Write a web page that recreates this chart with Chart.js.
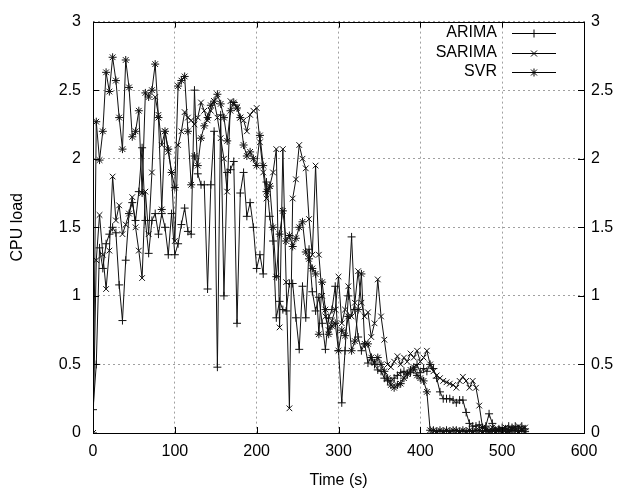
<!DOCTYPE html>
<html>
<head>
<meta charset="utf-8">
<script src="https://cdn.jsdelivr.net/npm/chart.js@4.4.1/dist/chart.umd.min.js"></script>
<style>body{margin:0;background:#fff}</style>
</head>
<body>
<canvas id="grafico" width="625" height="492"></canvas>
<script>
// tempo em segundos (eixo x)
const tempo = [
  0, 4, 8, 12, 16, 20, 24, 28, 32, 36, 40, 44, 48, 52, 56, 60, 64, 68, 72, 76, 80, 84, 88, 92, 96,
  100, 104, 108, 112, 116, 120, 124, 128, 132, 136, 140, 144, 148, 152, 156, 160, 164, 168, 172, 176, 180, 184, 188, 192, 196,
  200, 204, 208, 212, 216, 220, 224, 228, 232, 236, 240, 244, 248, 252, 256, 260, 264, 268, 272, 276, 280, 284, 288, 292, 296,
  300, 304, 308, 312, 316, 320, 324, 328, 332, 336, 340, 344, 348, 352, 356, 360, 364, 368, 372, 376, 380, 384, 388, 392, 396,
  400, 404, 408, 412, 416, 420, 424, 428, 432, 436, 440, 444, 448, 452, 456, 460, 464, 468, 472, 476, 480, 484, 488, 492, 496,
  500, 504, 508, 512, 516, 520, 524, 528
];

const arima = [
  0.17, 0.5, 1.35, 1.2, 1.38, 1.45, 1.5, 1.46, 1.08, 0.82, 1.26, 1.6, 1.68, 1.55, 1.76, 2.08, 1.55, 1.31, 1.55, 1.6, 1.45, 1.6, 1.5, 1.3, 1.6,
  1.3, 1.38, 1.52, 1.64, 1.47, 1.45, 2.5, 1.89, 1.81, 1.81, 1.05, 1.81, 2.2, 0.48, 2.32, 1.0, 1.9, 1.92, 1.98, 0.8, 1.75, 1.9, 1.58, 1.68, 1.5,
  1.2, 1.3, 1.16, 1.83, 1.58, 1.4, 0.84, 0.96, 0.9, 0.89, 1.09, 1.09, 0.84, 0.61, 1.07, 0.84, 1.34, 1.03, 0.89, 0.99, 0.8, 0.61, 0.84, 0.9, 1.07,
  0.6, 0.22, 0.6, 1.0, 1.43, 0.9, 0.7, 0.6, 0.65, 0.51, 0.55, 0.5, 0.46, 0.45, 0.4, 0.38, 0.38, 0.4, 0.42, 0.44, 0.45, 0.43, 0.44, 0.46, 0.5,
  0.44, 0.47, 0.45, 0.5, 0.47, 0.4, 0.3, 0.25, 0.25, 0.25, 0.24, 0.22, 0.24, 0.24, 0.15, 0.07, 0.05, 0.05, 0.06, 0.04, 0.05, 0.14, 0.07, 0.02, 0.03,
  0.04, 0.03, 0.05, 0.04, 0.05, 0.03, 0.05, 0.03
];

const sarima = [
  0, 1.26, 1.59, 1.3, 1.05, 1.33, 1.87, 1.55, 1.66, 1.45, 1.52, 1.6, 1.72, 1.5, 1.33, 1.13, 1.76, 1.45, 1.9, 2.45, 2.32, 2.1, 2.2, 2.05, 1.9,
  1.4, 2.1, 2.2, 2.34, 2.3, 2.28, 2.25, 2.3, 2.41, 2.35, 2.28, 2.35, 2.42, 2.3, 2.15, 2.0, 1.76, 2.42, 2.4, 2.38, 2.3, 2.28, 2.2, 2.32, 2.35,
  2.37, 2.12, 1.9, 1.71, 1.8, 1.9, 2.07, 0.77, 2.07, 1.1, 0.18, 1.71, 1.85, 2.1, 2.0, 1.93, 1.56, 1.3, 1.95, 1.3, 1.0, 0.85, 0.75, 0.82, 0.9,
  1.14, 0.8, 0.9, 1.07, 0.85, 0.95, 1.18, 0.95, 0.85, 0.88, 0.7, 0.8, 1.12, 0.85, 0.68, 0.5, 0.48, 0.52, 0.56, 0.5, 0.55, 0.52, 0.58, 0.55, 0.6,
  0.52, 0.55, 0.6, 0.5, 0.45, 0.42, 0.4, 0.38, 0.37, 0.36, 0.35, 0.33, 0.38, 0.41, 0.38, 0.33, 0.38, 0.33, 0.2, 0.04, 0.03, 0.02, 0.04, 0.03, 0.02,
  0.03, 0.04, 0.02, 0.03, 0.04, 0.05, 0.03, 0.04
];

const svr = [
  0, 2.27, 1.99, 2.2, 2.63, 2.49, 2.74, 2.57, 2.3, 2.07, 2.72, 2.52, 2.16, 2.2, 2.35, 1.75, 2.48, 2.45, 2.5, 2.69, 2.3, 1.63, 2.2, 2.07, 1.9,
  1.79, 2.53, 2.57, 2.6, 2.2, 1.81, 2.02, 1.95, 2.15, 2.24, 2.3, 2.39, 2.42, 2.47, 2.4, 2.3, 2.13, 2.35, 2.41, 2.37, 2.3, 2.1, 2.02, 2.05, 2.0,
  1.95, 2.17, 1.95, 1.76, 1.8, 1.5, 1.14, 1.45, 1.62, 1.4, 1.44, 1.36, 1.42, 1.5, 1.54, 1.32, 1.27, 1.2, 1.16, 0.72, 1.1, 0.9, 0.72, 0.78, 0.8,
  0.6, 0.75, 0.71, 0.85, 0.6, 0.67, 0.9, 1.16, 0.65, 0.65, 0.55, 0.51, 0.55, 0.5, 0.45, 0.4, 0.35, 0.33, 0.35, 0.36, 0.4, 0.43, 0.46, 0.48, 0.42,
  0.4, 0.38, 0.3, 0.02, 0.02, 0.01, 0.02, 0.01, 0.02, 0.01, 0.02, 0.02, 0.01, 0.02, 0.01, 0.02, 0.01, 0.02, 0.02, 0.01, 0.02, 0.01, 0.02, 0.01, 0.02,
  0.01, 0.02, 0.01, 0.02, 0.02, 0.01, 0.02, 0.01
];

const nomes = ['ARIMA', 'SARIMA', 'SVR'];
const marcadores = ['cross', 'crossRot', 'star'];
const xTicks = [0, 100, 200, 300, 400, 500, 600];
const yTicks = [0, 0.5, 1, 1.5, 2, 2.5, 3];
const yTickLabels = ['0', '0.5', '1', '1.5', '2', '2.5', '3'];

const fonte = 'Liberation Sans, Arial, sans-serif';

function pontos(valores) {
    return tempo.map((t, i) => ({ x: t, y: valores[i] }));
}

function desenhaMarcador(ctx, estilo, x, y, r) {
    ctx.beginPath();
    if (estilo === 'cross' || estilo === 'star') {
        ctx.moveTo(x - r, y); ctx.lineTo(x + r, y);
        ctx.moveTo(x, y - r); ctx.lineTo(x, y + r);
    }
    if (estilo === 'crossRot' || estilo === 'star') {
        const d = r * 0.75;
        ctx.moveTo(x - d, y - d); ctx.lineTo(x + d, y + d);
        ctx.moveTo(x - d, y + d); ctx.lineTo(x + d, y - d);
    }
    ctx.stroke();
}

// moldura, ticks para dentro, legenda e titulos no estilo gnuplot
const estiloGnuplot = {
    id: 'estiloGnuplot',
    afterDraw(chart) {
        const ctx = chart.ctx;
        const a = chart.chartArea;
        const sx = chart.scales.x, sy = chart.scales.y;
        ctx.save();
        ctx.strokeStyle = '#000';
        ctx.lineWidth = 1;
        ctx.strokeRect(Math.round(a.left) + 0.5, Math.round(a.top) + 0.5, Math.round(a.right - a.left), Math.round(a.bottom - a.top));

        ctx.beginPath();
        xTicks.forEach(v => {
            const px = Math.round(sx.getPixelForValue(v)) + 0.5;
            ctx.moveTo(px, a.bottom); ctx.lineTo(px, a.bottom - 6);
            ctx.moveTo(px, a.top); ctx.lineTo(px, a.top + 6);
        });
        yTicks.forEach(v => {
            const py = Math.round(sy.getPixelForValue(v)) + 0.5;
            ctx.moveTo(a.left, py); ctx.lineTo(a.left + 6, py);
            ctx.moveTo(a.right, py); ctx.lineTo(a.right - 6, py);
        });
        ctx.stroke();

        // legenda
        ctx.font = '16px ' + fonte;
        ctx.fillStyle = '#000';
        ctx.textAlign = 'right';
        ctx.textBaseline = 'middle';
        nomes.forEach((nome, i) => {
            const y = 33 + i * 19.5;
            ctx.fillText(nome, 497, y);
            ctx.beginPath();
            ctx.moveTo(512, Math.round(y) + 0.5);
            ctx.lineTo(556, Math.round(y) + 0.5);
            ctx.stroke();
            desenhaMarcador(ctx, marcadores[i], 534, Math.round(y) + 0.5, 4);
        });

        // titulos dos eixos
        ctx.font = '16px ' + fonte;
        ctx.textAlign = 'center';
        ctx.fillText('Time (s)', (a.left + a.right) / 2, 481);
        ctx.translate(18, (a.top + a.bottom) / 2);
        ctx.rotate(-Math.PI / 2);
        ctx.fillText('CPU load', 0, 0);
        ctx.restore();
    }
};

function serie(i, valores) {
    return {
        label: nomes[i],
        data: pontos(valores),
        borderColor: '#111',
        borderWidth: 1,
        pointStyle: marcadores[i],
        pointRadius: 4,
        pointBorderColor: '#111',
        pointBackgroundColor: 'transparent',
        pointBorderWidth: 1,
        tension: 0,
        fill: false
    };
}

const escalaY = (lado, largura, comGrade) => ({
    type: 'linear',
    position: lado,
    min: 0,
    max: 3,
    afterBuildTicks: s => { s.ticks = yTicks.map(v => ({ value: v })); },
    afterFit: s => { s.width = largura; },
    grid: { display: comGrade, color: '#a0a0a0', drawTicks: false },
    border: { display: false, dash: [2, 3] },
    ticks: {
        padding: lado === 'left' ? 12 : 7,
        color: '#000',
        font: { family: fonte, size: 16 },
        callback: v => yTickLabels[yTicks.indexOf(v)]
    }
});

const config = {
    type: 'line',
    data: {
        datasets: [serie(0, arima), serie(1, sarima), serie(2, svr)]
    },
    options: {
        responsive: false,
        animation: false,
        layout: { padding: { top: 18, left: 0, right: 0, bottom: 0 } },
        plugins: { legend: { display: false }, tooltip: { enabled: false } },
        scales: {
            x: {
                type: 'linear',
                min: 0,
                max: 600,
                afterBuildTicks: s => { s.ticks = xTicks.map(v => ({ value: v })); },
                afterFit: s => { s.height = 59; },
                grid: { color: '#a0a0a0', drawTicks: false },
                border: { display: false, dash: [2, 3] },
                ticks: { padding: 9, color: '#000', maxRotation: 0, font: { family: fonte, size: 16 } }
            },
            y: escalaY('left', 93, true),
            y2: escalaY('right', 41, false)
        }
    },
    plugins: [estiloGnuplot]
};

const ctx = document.getElementById('grafico').getContext('2d');
const grafico = new Chart(ctx, config);
</script>
</body>
</html>
